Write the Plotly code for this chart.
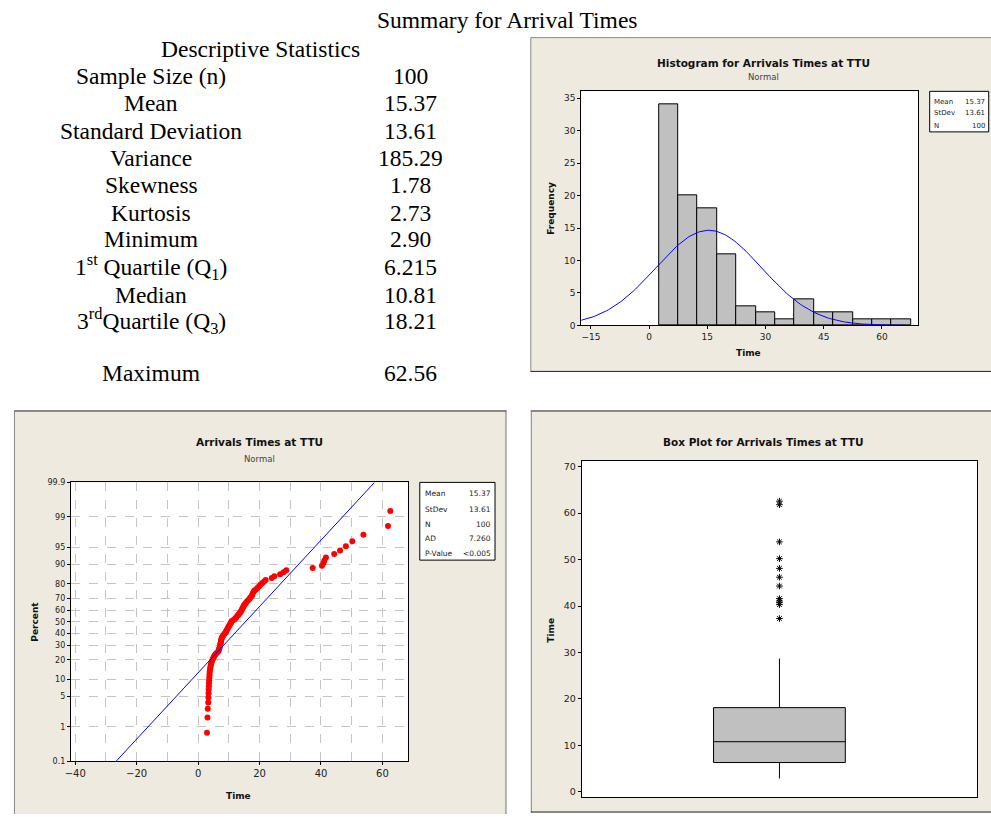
import plotly.graph_objects as go
from statistics import NormalDist

# ---------------- data ----------------
TIMES = [
    2.90, 3.05, 3.15, 3.30, 3.35, 3.40, 3.45, 3.50, 3.55, 3.60,
    3.65, 3.70, 3.75, 3.80, 3.90, 4.00, 4.10, 4.25, 4.40, 4.60,
    4.80, 5.10, 5.30, 5.65, 6.10, 6.56, 6.75, 6.90, 7.00, 7.10,
    7.20, 7.30, 7.40, 7.45,
    7.55, 7.65, 7.80, 8.00, 8.30, 8.60, 8.90, 9.10, 9.30, 9.50,
    9.70, 9.90, 10.10, 10.30, 10.55, 10.75, 10.87, 11.40, 11.90, 12.30,
    12.55, 12.90, 13.20, 13.50, 13.80, 14.00, 14.20, 14.40, 14.60, 14.80,
    15.00, 15.30, 15.60, 15.90, 16.30, 16.70, 17.00, 17.40,
    17.60, 17.80, 18.00, 18.28, 18.80, 19.30, 19.80, 20.30, 20.80, 21.50, 22.00,
    24.00, 24.80, 26.70, 27.80, 28.70,
    37.30, 40.30, 40.80, 41.10, 41.60, 44.30, 46.20, 48.10, 50.20, 53.80,
    61.80, 62.56,
]
MEAN = 15.37
STDEV = 13.61
N = 100
AD = "7.260"
PVALUE = "<0.005"

SUMMARY_LABELS = [
    "Sample Size (n)", "Mean", "Standard Deviation", "Variance", "Skewness",
    "Kurtosis", "Minimum", "1<sup>st</sup> Quartile (Q<sub>1</sub>)", "Median",
    "3<sup>rd</sup>Quartile (Q<sub>3</sub>)", "Maximum",
]
SUMMARY_VALUES = ["100", "15.37", "13.61", "185.29", "1.78", "2.73", "2.90",
                  "6.215", "10.81", "18.21", "62.56"]
PROB_TICKS = [0.1, 1, 5, 10, 20, 30, 40, 50, 60, 70, 80, 90, 95, 99, 99.9]
PROB_TICKTEXT = ["0.1", "1", "5", "10", "20", "30", "40", "50", "60", "70",
                 "80", "90", "95", "99", "99.9"]
HIST_XTICKS = [-15, 0, 15, 30, 45, 60]

# ---------------- helpers ----------------
W, H = 991, 819
def fx(px):
    return px / W
def fy(py):
    return 1 - py / H

nd = NormalDist()
BEIGE = "#EEEAE0"
SERIF = "Liberation Serif"
SANS = "DejaVu Sans"

fig = go.Figure()

# ---------------- histogram ----------------
fig.add_trace(go.Histogram(
    x=TIMES, xbins=dict(start=2.5, end=67.5, size=5),
    marker=dict(color="#C0C0C0", line=dict(color="black", width=1)),
    xaxis="x", yaxis="y", showlegend=False,
))
curve_x = [-17.5 + 0.5 * i for i in range(168)]
curve_y = [N * 5 * NormalDist(MEAN, STDEV).pdf(v) for v in curve_x]
fig.add_trace(go.Scatter(x=curve_x, y=curve_y, mode="lines",
                         line=dict(color="#0000FF", width=1),
                         xaxis="x", yaxis="y", showlegend=False))

# ---------------- probability plot ----------------
srt = sorted(TIMES)
probs = [(i + 1 - 0.3) / (N + 0.4) for i in range(N)]
zs = [nd.inv_cdf(p) for p in probs]
fig.add_trace(go.Scatter(x=srt, y=zs, mode="markers",
                         marker=dict(color="#FF0000", size=6),
                         xaxis="x2", yaxis="y2", showlegend=False))
zlo, zhi = nd.inv_cdf(0.001), nd.inv_cdf(0.999)
fig.add_trace(go.Scatter(x=[MEAN + STDEV * zlo, MEAN + STDEV * zhi], y=[zlo, zhi],
                         mode="lines", line=dict(color="#0000FF", width=1),
                         xaxis="x2", yaxis="y2", showlegend=False))

# ---------------- box plot ----------------
fig.add_trace(go.Box(
    y=TIMES, x0=0, width=1.0, name="", boxpoints="outliers", pointpos=0, jitter=0,
    whiskerwidth=0, fillcolor="#C0C0C0", line=dict(color="black", width=1),
    marker=dict(symbol="asterisk-open", size=5.5, color="black",
                line=dict(color="black", width=1)),
    xaxis="x3", yaxis="y3", showlegend=False,
))

# ---------------- axes ----------------
common = dict(showline=True, mirror=True, linecolor="black", linewidth=1,
              ticks="outside", ticklen=3, tickcolor="black", zeroline=False)
GRID = "#C4C4C4"

fig.update_layout(
    xaxis=dict(domain=[fx(578.7), fx(918)], range=[-17.5, 69.4], tickvals=HIST_XTICKS,
               showgrid=False, tickfont=dict(family=SANS, size=9, color="#222"),
               anchor="y", **common),
    yaxis=dict(domain=[fy(325), fy(88.3)], range=[0, 36.07], dtick=5,
               showgrid=False, tickfont=dict(family=SANS, size=9, color="#222"),
               anchor="x", **common),
    xaxis2=dict(domain=[fx(65.3), fx(404.7)], range=[-41.4, 68.4], dtick=20, tick0=0,
                showgrid=True, gridcolor=GRID, griddash="dash", gridwidth=1,
                minor=dict(dtick=10, tick0=0, showgrid=True, gridcolor=GRID,
                           griddash="dash", ticks=""),
                tickfont=dict(family=SANS, size=10, color="#222"), anchor="y2", **common),
    yaxis2=dict(domain=[fy(765.7), fy(483.7)], range=[zlo, zhi],
                tickvals=[nd.inv_cdf(p / 100) for p in PROB_TICKS], ticktext=PROB_TICKTEXT,
                showgrid=True, gridcolor=GRID, griddash="dash", gridwidth=1,
                tickfont=dict(family=SANS, size=8, color="#222"), anchor="x2", **common),
    xaxis3=dict(domain=[fx(579.3), fx(977)], range=[-1.5, 1.5], showticklabels=False,
                showline=True, mirror=True, linecolor="black", ticks="", showgrid=False,
                zeroline=False, anchor="y3"),
    yaxis3=dict(domain=[fy(801.7), fy(461.7)], range=[-1.06, 71.28], dtick=10,
                showgrid=False, tickfont=dict(family=SANS, size=9.5, color="#222"),
                anchor="x3", **common),
)

# ---------------- panels (shapes) ----------------
shapes = []
def panel(x0, y0, x1, y1):
    shapes.append(dict(type="rect", xref="paper", yref="paper", x0=fx(x0), x1=fx(x1),
                       y0=fy(y1), y1=fy(y0), fillcolor=BEIGE, line=dict(width=0),
                       layer="below"))
def line(x0, y0, x1, y1, color, width=1):
    shapes.append(dict(type="line", xref="paper", yref="paper", x0=fx(x0), x1=fx(x1),
                       y0=fy(y0), y1=fy(y1), line=dict(color=color, width=width),
                       layer="below"))
def white(x0, y0, x1, y1):
    shapes.append(dict(type="rect", xref="paper", yref="paper", x0=fx(x0), x1=fx(x1),
                       y0=fy(y1), y1=fy(y0), fillcolor="white", line=dict(width=0),
                       layer="below"))

panel(528, 34, 991, 372)
line(528, 34, 991, 34, "#888")
line(528, 34, 528, 372, "#888")
line(528, 371.5, 991, 371.5, "#222")
panel(8, 411, 503.5, 819)
line(8, 411.5, 503.5, 411.5, "#222")
line(8.5, 411, 8.5, 819, "#888")
line(503, 411, 503, 819, "#777")
panel(528, 411, 991, 817.5)
line(528, 411.5, 991, 411.5, "#222")
line(528.5, 411, 528.5, 817.5, "#888")
line(528, 817, 991, 817, "#222")
white(578.7, 88.3, 918, 325)
white(65.3, 483.7, 404.7, 765.7)
white(579.3, 461.7, 977, 801.7)

# stats boxes
shapes.append(dict(type="rect", xref="paper", yref="paper", x0=fx(929.3), x1=fx(988.7),
                   y0=fy(129.3), y1=fy(88.3), fillcolor="white",
                   line=dict(color="black", width=1)))
shapes.append(dict(type="rect", xref="paper", yref="paper", x0=fx(416.3), x1=fx(492),
                   y0=fy(562.3), y1=fy(483.7), fillcolor="white",
                   line=dict(color="black", width=1)))

# ---------------- annotations ----------------
ann = []
def text(x, y, s, size, family=SERIF, color="black", xanchor="center", bold=False,
         angle=0):
    if bold:
        s = "<b>" + s + "</b>"
    ann.append(dict(x=fx(x), y=fy(y), xref="paper", yref="paper", text=s,
                    showarrow=False, xanchor=xanchor, yanchor="middle",
                    font=dict(family=family, size=size, color=color), textangle=angle))

# summary table
text(504, 16, "Summary for Arrival Times", 23.5)
text(256, 45, "Descriptive Statistics", 23.5)
ROW_Y = [73, 100, 128, 156, 183, 211, 238, 266, 294, 321, 373]
for lab, val, yy in zip(SUMMARY_LABELS, SUMMARY_VALUES, ROW_Y):
    text(146, yy, lab, 23.5)
    text(407, yy, val, 23.5)

# histogram texts
text(762, 59.5, "Histogram for Arrivals Times at TTU", 10.5, SANS, "#111", bold=True)
text(762, 74, "Normal", 8.5, SANS, "#444")
text(548.7, 206.7, "Frequency", 9, SANS, "#111", bold=True, angle=-90)
text(747, 352.7, "Time", 9, SANS, "#111", bold=True)
hist_stats = [("Mean", f"{MEAN:.2f}"), ("StDev", f"{STDEV:.2f}"), ("N", str(N))]
for (k, v), yy in zip(hist_stats, [98.7, 110.7, 123.7]):
    text(932, yy, k, 7, SANS, "#222", xanchor="left")
    text(986.5, yy, v, 7, SANS, "#222", xanchor="right")

# probability plot texts
text(254.7, 442.7, "Arrivals Times at TTU", 10.5, SANS, "#111", bold=True)
text(254.7, 460.3, "Normal", 8.5, SANS, "#444")
text(29.7, 625, "Percent", 9, SANS, "#111", bold=True, angle=-90)
text(233.7, 800.7, "Time", 9, SANS, "#111", bold=True)
prob_stats = [("Mean", f"{MEAN:.2f}"), ("StDev", f"{STDEV:.2f}"), ("N", str(N)),
              ("AD", AD), ("P-Value", PVALUE)]
for (k, v), yy in zip(prob_stats, [495, 511, 526, 540, 556]):
    text(419.5, yy, k, 7.5, SANS, "#222", xanchor="left")
    text(489.5, yy, v, 7.5, SANS, "#222", xanchor="right")

# box plot texts
text(762, 442.7, "Box Plot for Arrivals Times at TTU", 10.5, SANS, "#111", bold=True)
text(548.7, 633.3, "Time", 9, SANS, "#111", bold=True, angle=-90)

fig.update_layout(
    width=W, height=H, margin=dict(l=0, r=0, t=0, b=0),
    paper_bgcolor="white", plot_bgcolor="white",
    shapes=shapes, annotations=ann, showlegend=False,
    bargap=0,
)

fig.write_html("out.html", config={"displayModeBar": False},
               post_script="document.body.style.margin='0';document.body.style.overflow='hidden';")
